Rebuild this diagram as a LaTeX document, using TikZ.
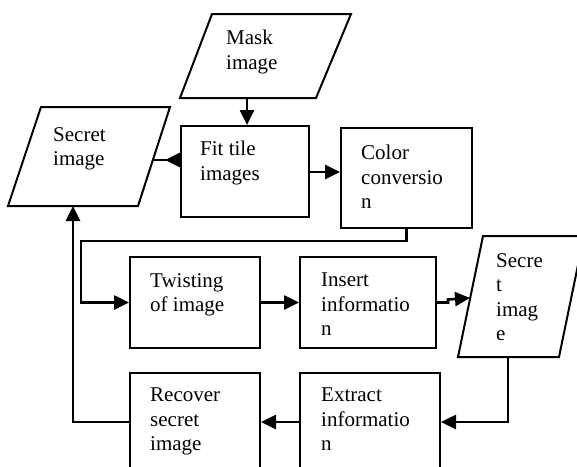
\documentclass[tikz,border=0pt]{standalone}
\usepackage{fontspec}
\setmainfont{Liberation Serif}
\usetikzlibrary{arrows.meta}
\begin{document}
\begin{tikzpicture}[x=1pt,y=-1pt,
  boxst/.style={draw, line width=2pt, rectangle, inner sep=0pt, anchor=north west},
  para/.style={draw, line width=2pt, line join=miter},
  txt/.style={inner sep=0pt, anchor=north west, align=left, font=\fontsize{21}{24.5}\selectfont},
  conn/.style={line width=2.6pt},
  arr/.style={conn, -{Triangle[length=15pt,width=14pt]}},
  rarr/.style={conn, -{Triangle[length=15pt,width=14pt,reversed]}}]
\useasboundingbox (0,0) rectangle (577,466);
\clip (0,0) rectangle (577,466);

% parallelograms
\draw[para] (212,14) -- (351,14) -- (316,98) -- (180,98) -- cycle;
\coordinate (maskbot) at (247,98);
\node[txt] (maskT) at (226,30) {Mask\\image};

\draw[para] (41,107) -- (170,107) -- (138,206) -- (8,206) -- cycle;
\coordinate (secLE) at (154,160);
\coordinate (secLB) at (73,206);
\node[txt] (secLT) at (53,127) {Secret\\image};

\draw[para] (483,236) -- (584,236) -- (559,357) -- (458,357) -- cycle;
\coordinate (secRW) at (470,298);
\coordinate (secRB) at (508,357);
\node[txt] (secRT) at (496,253) {Secre\\t\\imag\\e};

% boxes
\node[boxst, minimum width=128pt, minimum height=91pt] (fit) at (180,125) {};
\node[txt] (fitT) at (200,141) {Fit tile\\images};

\node[boxst, minimum width=131pt, minimum height=100pt] (color) at (340,127) {};
\node[txt] (colorT) at (361,145) {Color\\conversio\\n};

\node[boxst, minimum width=130pt, minimum height=91pt] (twist) at (129,256) {};
\node[txt] (twistT) at (150,273) {Twisting\\of image};

\node[boxst, minimum width=136pt, minimum height=91pt] (insert) at (299,256) {};
\node[txt] (insertT) at (321,273) {Insert\\informatio\\n};

\node[boxst, minimum width=140pt, minimum height=98pt] (extract) at (299,372) {};
\node[txt] (extractT) at (321,388) {Extract\\informatio\\n};

\node[boxst, minimum width=130pt, minimum height=98pt] (recover) at (129,372) {};
\node[txt] (recoverT) at (150,388) {Recover\\secret\\image};

% connectors
\coordinate (bendA) at (81,241);
\coordinate (fc) at (0,172);
\draw[arr] (maskbot) -- (maskbot |- fit.north);
\draw[rarr] (secLE) -- (secLE -| fit.west);
\draw[arr] (fc -| fit.east) -- (fc -| color.west);
\draw[arr] (color.south) |- (bendA) |- (twist.west);
\draw[arr] (twist.east) -- (insert.west);
\draw[arr] (insert.east) -- ++(11,0) -- ++(0,-3) -- (secRW);
\draw[arr] (secRB) |- (extract.east);
\draw[arr] (extract.west) -- (recover.east);
\draw[arr] (recover.west) -| (secLB);
\end{tikzpicture}
\end{document}
